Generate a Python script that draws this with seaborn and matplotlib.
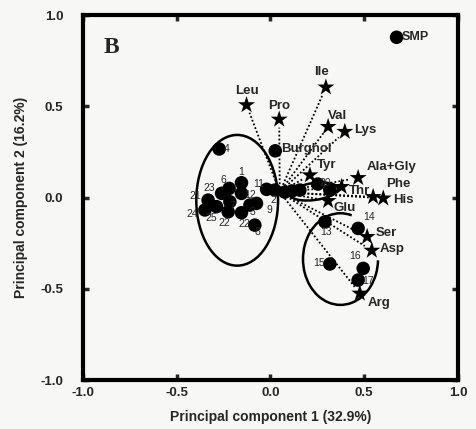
import numpy as np
import matplotlib
matplotlib.use('Agg')
import matplotlib.pyplot as plt
from matplotlib.patches import Ellipse, Arc
import pandas as pd
import seaborn as sns

# Amino acid loadings (stars)
amino_names = ['Leu', 'Pro', 'Ile', 'Val', 'Lys', 'Tyr', 'Ala+Gly', 'Thr',
               'Phe', 'His', 'Glu', 'Ser', 'Asp', 'Arg']
amino_pc1 = [-0.127, 0.047, 0.296, 0.308, 0.397, 0.211, 0.468, 0.380,
             0.548, 0.602, 0.308, 0.516, 0.541, 0.477]
amino_pc2 = [0.507, 0.428, 0.604, 0.388, 0.361, 0.123, 0.108, 0.059,
             0.004, -0.004, -0.018, -0.215, -0.290, -0.525]

# Sample scores (dots)
sample_names = ['SMP', 'Burghol', '4', '1', '6', '23', '12', '21', '7', '24',
                '25', '22', '22', '3', '9', '8', '11', '2', '', '', '',
                '', '20', '13', '14', '15', '16', '17']
sample_pc1 = [0.673, 0.026, -0.273, -0.154, -0.220, -0.260, -0.154, -0.332,
              -0.216, -0.349, -0.287, -0.225, -0.154, -0.109, -0.074, -0.083,
              -0.020, 0.024, 0.077, 0.115, 0.157, 0.253, 0.317, 0.291,
              0.468, 0.317, 0.495, 0.468]
sample_pc2 = [0.878, 0.256, 0.266, 0.081, 0.050, 0.023, 0.023, -0.014,
              -0.023, -0.068, -0.050, -0.078, -0.083, -0.041, -0.032, -0.151,
              0.045, 0.041, 0.030, 0.036, 0.041, 0.074, 0.041, -0.133,
              -0.169, -0.364, -0.388, -0.452]

# origin of the dotted loading vectors
vec_origin = (0.05, 0.03)

amino = pd.DataFrame({'pc1': amino_pc1, 'pc2': amino_pc2, 'name': amino_names})
samples = pd.DataFrame({'pc1': sample_pc1, 'pc2': sample_pc2, 'name': sample_names})

sns.set_style('ticks')
plt.rcParams['font.family'] = ['Liberation Sans', 'DejaVu Sans']

fig = plt.figure(figsize=(4.76, 4.29), dpi=100, facecolor='#f7f7f5')
ax = fig.add_axes([0.174, 0.114, 0.788, 0.851])
ax.set_facecolor('#f7f7f5')

# dotted lines from origin to each amino acid
for x, y in zip(amino_pc1, amino_pc2):
    dx, dy = x - vec_origin[0], y - vec_origin[1]
    d = np.hypot(dx, dy)
    k = max(d - 0.045, 0.0) / d
    ax.plot([vec_origin[0], vec_origin[0] + dx * k],
            [vec_origin[1], vec_origin[1] + dy * k],
            color='black', linestyle=(0, (1, 1.2)), linewidth=1.3, zorder=1)

# group ellipses
ax.add_patch(Ellipse((-0.177, -0.015), 0.436, 0.716, fill=False,
                     edgecolor='black', linewidth=1.8, zorder=2))
ax.add_patch(Ellipse((0.233, 0.033), 0.256, 0.093, angle=8, fill=False,
                     edgecolor='black', linewidth=1.8, zorder=2))
ax.add_patch(Arc((0.374, -0.337), 0.40, 0.502, theta1=76, theta2=358,
                 edgecolor='black', linewidth=1.8, zorder=2))

sns.scatterplot(data=samples, x='pc1', y='pc2', ax=ax, color='black',
                marker='o', s=95, edgecolor='none', zorder=3, legend=False)
sns.scatterplot(data=amino, x='pc1', y='pc2', ax=ax, color='black',
                marker='*', s=165, edgecolor='none', zorder=3, legend=False)

# label offsets in points (dx, dy, ha)
amino_off = {'Leu': (0, 10, 'center'), 'Pro': (0, 10, 'center'),
             'Ile': (-3, 11, 'center'), 'Val': (7, 8, 'center'),
             'Lys': (7, 1, 'left'), 'Tyr': (5, 7, 'left'),
             'Ala+Gly': (6, 8, 'left'), 'Thr': (5, -3, 'left'),
             'Phe': (9, 9, 'left'), 'His': (7, -1, 'left'),
             'Glu': (4, -5, 'left'), 'Ser': (6, 3, 'left'),
             'Asp': (6, 1, 'left'), 'Arg': (6, -7, 'left')}
for name, x, y in zip(amino_names, amino_pc1, amino_pc2):
    ox, oy, ha = amino_off[name]
    ax.annotate(name, (x, y), xytext=(ox, oy), textcoords='offset points',
                ha=ha, va='center', fontsize=9.5, fontweight='bold', zorder=4)

sample_off = {'SMP': (4, 0, 'left', 9, 'bold'), 'Burghol': (4, 1, 'left', 9.5, 'bold'),
              '4': (3, 0, 'left'), '1': (0, 8, 'center'), '6': (-4, 6, 'center'),
              '23': (-9, 4, 'center'), '12': (6, -1, 'center'), '21': (-9, 3, 'center'),
              '7': (2, -3, 'center'), '24': (-9, -3, 'center'), '25': (-4, -8, 'center'),
              '3': (2, -5, 'center'), '9': (9, -5, 'center'), '8': (2, -5, 'center'),
              '11': (-6, 4, 'center'), '2': (-1, -7, 'center'), '20': (-3, 5, 'center'),
              '13': (1, -7, 'center'), '14': (4, 8, 'left'), '15': (-8, 1, 'center'),
              '16': (-6, 9, 'center'), '17': (3, -1, 'left')}
seen22 = 0
for name, x, y in zip(sample_names, sample_pc1, sample_pc2):
    if name == '':
        continue
    if name == '22':
        off = [(-3, -8, 'center'), (2, -8, 'center')][seen22]
        seen22 += 1
    else:
        off = sample_off[name]
    size = off[3] if len(off) > 3 else 7.5
    weight = off[4] if len(off) > 4 else 'normal'
    ax.annotate(name, (x, y), xytext=off[:2], textcoords='offset points',
                ha=off[2], va='center', fontsize=size, fontweight=weight, zorder=4)

ax.text(-0.89, 0.82, 'B', fontsize=17, fontweight='bold',
        family='Liberation Serif', ha='left', va='center')

ax.set_xlim(-1.0, 1.0)
ax.set_ylim(-1.0, 1.0)
ticks = [-1.0, -0.5, 0.0, 0.5, 1.0]
ax.set_xticks(ticks)
ax.set_yticks(ticks)
ax.set_xticklabels(['%.1f' % t for t in ticks])
ax.set_yticklabels(['%.1f' % t for t in ticks])
ax.tick_params(direction='in', length=4, width=2.5, top=True, right=True,
               labelsize=9.5)
ax.tick_params(axis='x', pad=5)
ax.tick_params(axis='y', pad=14)
for lab in ax.get_xticklabels() + ax.get_yticklabels():
    lab.set_fontweight('bold')
for sp in ax.spines.values():
    sp.set_linewidth(3)
    sp.set_color('black')

ax.set_xlabel('Principal component 1 (32.9%)', fontsize=10, fontweight='bold', labelpad=8)
ax.set_ylabel('Principal component 2 (16.2%)', fontsize=10, fontweight='bold', labelpad=9)

fig.savefig('out.png', dpi=100, facecolor=fig.get_facecolor())
